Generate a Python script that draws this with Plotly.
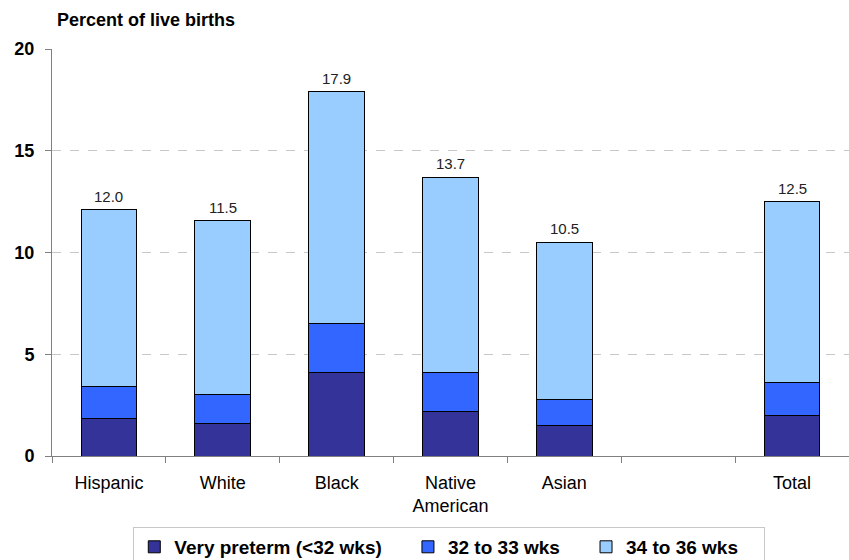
import plotly.graph_objects as go

categories = ["Hispanic", "White", "Black", "Native<br>American", "Asian", " ", "Total"]
very_preterm = [1.85, 1.6, 4.1, 2.2, 1.5, None, 2.0]
wks_32_33 = [1.55, 1.4, 2.4, 1.9, 1.3, None, 1.6]
wks_34_36 = [8.7, 8.55, 11.4, 9.6, 7.7, None, 8.9]
totals = [12.1, 11.55, 17.9, 13.7, 10.5, None, 12.5]
total_labels = ["12.0", "11.5", "17.9", "13.7", "10.5", "", "12.5"]
series_names = ["Very preterm (<32 wks)", "32 to 33 wks", "34 to 36 wks"]
y_ticks = [0, 5, 10, 15, 20]

FONT = "Arial, Liberation Sans, sans-serif"
PAD = "\u00a0\u00a0\u00a0\u00a0"

fig = go.Figure()
series = [
    (series_names[0], very_preterm, "#333399"),
    (series_names[1], wks_32_33, "#3366FF"),
    (series_names[2], wks_34_36, "#99CCFF"),
]
for name, vals, col in series:
    fig.add_trace(go.Bar(
        x=categories, y=vals, name=name + PAD, width=0.49,
        marker=dict(color=col, line=dict(color="#000000", width=1)),
        hoverinfo="skip",
    ))

for c, t, lab in zip(categories, totals, total_labels):
    if t is None:
        continue
    fig.add_annotation(x=c, y=t, text=lab, showarrow=False, yanchor="bottom", yshift=3,
                       font=dict(family=FONT, size=15, color="#222222"))

fig.add_annotation(xref="paper", yref="paper", x=0.004, y=1.071, xanchor="left", yanchor="middle",
                   text="<b>Percent of live births</b>", showarrow=False,
                   font=dict(family=FONT, size=18, color="#000000"))

fig.update_layout(
    barmode="stack",
    width=849, height=560,
    margin=dict(l=52, r=0, t=49, b=104, autoexpand=False),
    plot_bgcolor="white", paper_bgcolor="white",
    font=dict(family=FONT, color="#000000"),
    showlegend=True,
    legend=dict(orientation="h", xref="container", x=0.157, xanchor="left",
                yref="container", y=0.059, yanchor="top",
                bordercolor="#c8c8c8", borderwidth=1,
                font=dict(family=FONT, size=19, weight="bold", color="#000000"),
                traceorder="normal", itemclick=False, itemdoubleclick=False),
    xaxis=dict(categoryorder="array", categoryarray=categories, tickson="boundaries",
               ticks="outside", ticklen=6, tickcolor="#808080", showline=True,
               linecolor="#808080", linewidth=1, ticklabelstandoff=10,
               tickfont=dict(family=FONT, size=18, color="#000000"), showgrid=False),
    yaxis=dict(range=[0, 20], tickvals=y_ticks, ticks="outside", ticklen=6, tickcolor="#808080",
               showline=True, linecolor="#808080", linewidth=1, zeroline=False,
               showgrid=True, gridcolor="#c8c8c8", griddash="dash", gridwidth=1,
               ticklabelstandoff=7,
               tickfont=dict(family=FONT, size=18, weight="bold", color="#000000")),
)

fig.write_html("out.html")
